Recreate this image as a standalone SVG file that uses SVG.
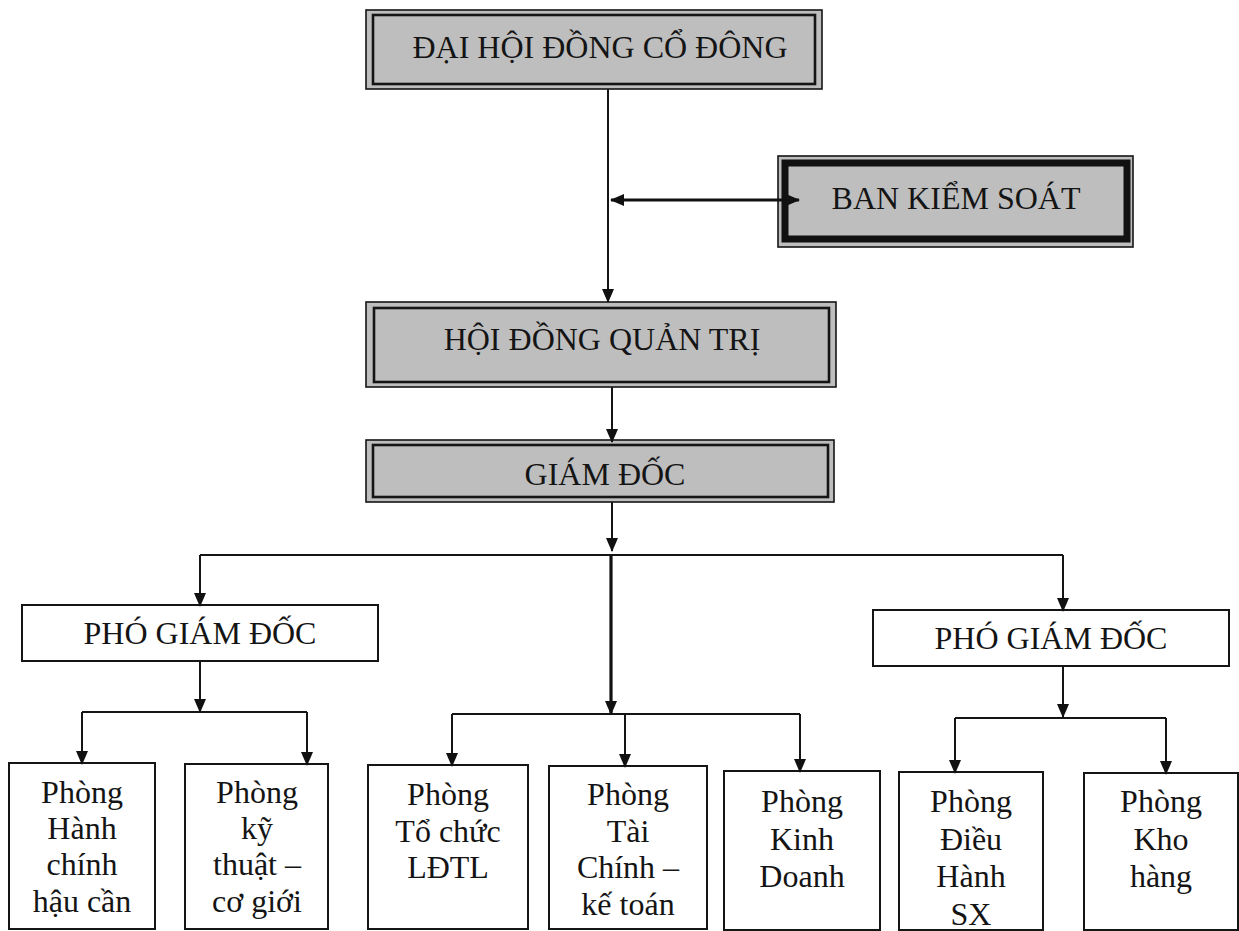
<svg xmlns="http://www.w3.org/2000/svg" width="1239" height="931" viewBox="0 0 1239 931">
<defs>
<marker id="ah" markerWidth="14" markerHeight="14" viewBox="0 0 14 14" refX="13" refY="7" orient="auto" markerUnits="userSpaceOnUse">
<path d="M0,1 L14,7 L0,13 Z" fill="#111"/>
</marker>
<marker id="ahs" markerWidth="14" markerHeight="14" viewBox="0 0 14 14" refX="13" refY="7" orient="auto-start-reverse" markerUnits="userSpaceOnUse">
<path d="M0,1 L14,7 L0,13 Z" fill="#111"/>
</marker>
<style>
.t{font-family:"Liberation Serif","Times New Roman",serif;font-size:32px;fill:#141414;text-anchor:middle}
.gray{fill:#bebebe}
.o{fill:none;stroke:#151515;stroke-width:1.6}
.i{fill:none;stroke:#151515;stroke-width:2.6}
.box{fill:#fff;stroke:#151515;stroke-width:2}
.c{fill:none;stroke:#151515;stroke-width:2;marker-end:url(#ah)}
.ln{fill:none;stroke:#151515;stroke-width:2}
.thick{fill:none;stroke:#111;stroke-width:3.2;marker-end:url(#ah)}
</style>
</defs>
<rect width="1239" height="931" fill="#fff"/>

<g id="dhdcd">
<rect class="gray" x="366" y="10" width="456" height="79"/>
<rect class="o" x="366" y="10" width="456" height="79"/>
<rect class="i" x="373" y="15" width="442" height="69"/>
<text class="t" x="600" y="58">ĐẠI HỘI ĐỒNG CỔ ĐÔNG</text>
</g>

<g id="bks">
<rect class="gray" x="778" y="156" width="355" height="91"/>
<rect class="o" x="778" y="156" width="355" height="91"/>
<rect fill="none" stroke="#111" stroke-width="7" x="785" y="163" width="342" height="76"/>
<text class="t" x="956" y="209">BAN KIỂM SOÁT</text>
</g>

<g id="hdqt">
<rect class="gray" x="366" y="302" width="470" height="85"/>
<rect class="o" x="366" y="302" width="470" height="85"/>
<rect class="i" x="374" y="308" width="455" height="74"/>
<text class="t" x="602" y="350">HỘI ĐỒNG QUẢN TRỊ</text>
</g>

<g id="gd">
<rect class="gray" x="366" y="440" width="468" height="62"/>
<rect class="o" x="366" y="440" width="468" height="62"/>
<rect class="i" x="373" y="445" width="455" height="52"/>
<text class="t" x="605" y="485">GIÁM ĐỐC</text>
</g>

<g id="pgd-left">
<rect class="box" x="22" y="605" width="356" height="56"/>
<text class="t" x="200" y="644">PHÓ GIÁM ĐỐC</text>
</g>

<g id="pgd-right">
<rect class="box" x="873" y="610" width="356" height="56"/>
<text class="t" x="1051" y="649">PHÓ GIÁM ĐỐC</text>
</g>

<g id="p-hanhchinh">
<rect class="box" x="9" y="763" width="146" height="166"/>
<text class="t" x="82" y="803">Phòng</text>
<text class="t" x="82" y="839">Hành</text>
<text class="t" x="82" y="875">chính</text>
<text class="t" x="82" y="912">hậu cần</text>
</g>

<g id="p-kythuat">
<rect class="box" x="185" y="764" width="143" height="165"/>
<text class="t" x="257" y="803">Phòng</text>
<text class="t" x="257" y="839">kỹ</text>
<text class="t" x="257" y="875">thuật –</text>
<text class="t" x="257" y="912">cơ giới</text>
</g>

<g id="p-tochuc">
<rect class="box" x="368" y="765" width="160" height="164"/>
<text class="t" x="448" y="805">Phòng</text>
<text class="t" x="448" y="842">Tổ chức</text>
<text class="t" x="448" y="878">LĐTL</text>
</g>

<g id="p-taichinh">
<rect class="box" x="549" y="766" width="158" height="163"/>
<text class="t" x="628" y="805">Phòng</text>
<text class="t" x="628" y="842">Tài</text>
<text class="t" x="628" y="878">Chính –</text>
<text class="t" x="628" y="915">kế toán</text>
</g>

<g id="p-kinhdoanh">
<rect class="box" x="724" y="771" width="156" height="159"/>
<text class="t" x="802" y="812">Phòng</text>
<text class="t" x="802" y="850">Kinh</text>
<text class="t" x="802" y="887">Doanh</text>
</g>

<g id="p-dieuhanh">
<rect class="box" x="899" y="772" width="144" height="158"/>
<text class="t" x="971" y="812">Phòng</text>
<text class="t" x="971" y="850">Điều</text>
<text class="t" x="971" y="887">Hành</text>
<text class="t" x="971" y="925">SX</text>
</g>

<g id="p-khohang">
<rect class="box" x="1084" y="773" width="154" height="157"/>
<text class="t" x="1161" y="812">Phòng</text>
<text class="t" x="1161" y="850">Kho</text>
<text class="t" x="1161" y="887">hàng</text>
</g>

<g id="connectors">
<path class="c" d="M608,89 V302"/>
<path fill="none" stroke="#111" stroke-width="3" d="M611,200 H799" marker-start="url(#ahs)" marker-end="url(#ah)"/>
<path class="c" d="M612,387 V442"/>
<path class="c" d="M612,502 V551"/>
<path class="ln" d="M200,555 H1063"/>
<path class="c" d="M200,555 V606"/>
<path class="c" d="M1063,555 V611"/>
<path class="thick" d="M611,555 V714"/>
<path class="c" d="M200,661 V712"/>
<path class="ln" d="M82,712 H307"/>
<path class="c" d="M82,712 V764"/>
<path class="c" d="M307,712 V765"/>
<path class="ln" d="M452,714 H800"/>
<path class="c" d="M452,714 V766"/>
<path class="c" d="M625,714 V767"/>
<path class="c" d="M800,714 V772"/>
<path class="c" d="M1063,666 V717"/>
<path class="ln" d="M955,718 H1166"/>
<path class="c" d="M955,718 V773"/>
<path class="c" d="M1166,718 V774"/>
</g>
</svg>
